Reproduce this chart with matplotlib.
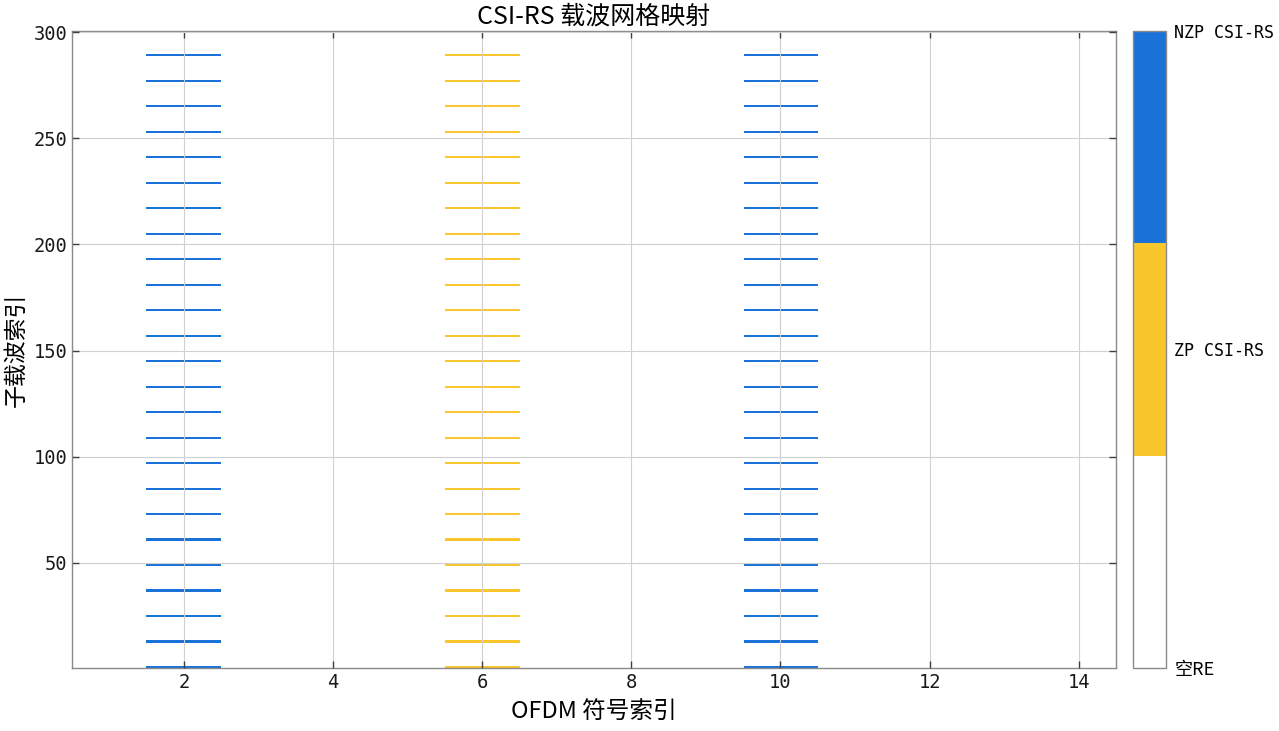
import numpy as np
import matplotlib
matplotlib.use("Agg")
import matplotlib.pyplot as plt
from matplotlib.colors import ListedColormap

# resource grid: 300 subcarriers x 14 OFDM symbols
n_subcarriers = 300
n_symbols = 14
nzp_symbols = [2, 10]          # 1-based OFDM symbol index
zp_symbols = [6]
csi_subcarriers = list(range(1, 290, 12))   # 1, 13, ..., 289
cb_labels = ["空RE", "ZP CSI-RS", "NZP CSI-RS"]
colors = ["#ffffff", "#f9c62d", "#1a72d8"]

grid = np.zeros((n_subcarriers, n_symbols))
for s in nzp_symbols:
    for k in csi_subcarriers:
        grid[k - 1, s - 1] = 2
for s in zp_symbols:
    for k in csi_subcarriers:
        grid[k - 1, s - 1] = 1

cjk = ["Noto Sans CJK SC", "DejaVu Sans"]
mono = ["DejaVu Sans Mono", "Noto Sans CJK SC"]

fig = plt.figure(figsize=(12.79, 7.31), dpi=100)
ax = fig.add_axes([0.0563, 0.0862, 0.8163, 0.8714])
cax = fig.add_axes([0.8858, 0.0862, 0.0258, 0.8714])

im = ax.imshow(grid, cmap=ListedColormap(colors), vmin=0, vmax=2,
               origin="lower", aspect="auto", interpolation="nearest",
               extent=[0.5, n_symbols + 0.5, 0.5, n_subcarriers + 0.5])
ax.set_xlim(0.5, 14.5)
ax.set_ylim(0.5, 300.5)
ax.set_xticks([2, 4, 6, 8, 10, 12, 14])
ax.set_yticks([50, 100, 150, 200, 250, 300])
ax.grid(True, color="#d0d0d0", linewidth=0.8)
ax.set_axisbelow(False)
ax.tick_params(direction="in", top=True, right=True, length=5, width=1,
               color="#404040", labelsize=13.5, labelcolor="#1a1a1a")
for lab in ax.get_xticklabels() + ax.get_yticklabels():
    lab.set_family(mono)
for sp in ax.spines.values():
    sp.set_color("#8a8a8a")
    sp.set_linewidth(1)

ax.set_title("CSI-RS 载波网格映射", family=cjk, fontsize=18, pad=5)
ax.set_xlabel("OFDM 符号索引", family=cjk, fontsize=17, labelpad=6)
ax.set_ylabel("子载波索引", family=cjk, fontsize=16.5, labelpad=4)

cb = fig.colorbar(im, cax=cax, ticks=[0, 1, 2])
cb.ax.tick_params(length=0, labelsize=12, pad=6)
cb.ax.set_yticklabels(cb_labels)
for i, lab in enumerate(cb.ax.get_yticklabels()):
    lab.set_family(cjk if i == 0 else mono)
    if i == 0:
        lab.set_fontsize(13)
cb.outline.set_edgecolor("#8a8a8a")
cb.outline.set_linewidth(1)

fig.savefig("out.png", dpi=100)
